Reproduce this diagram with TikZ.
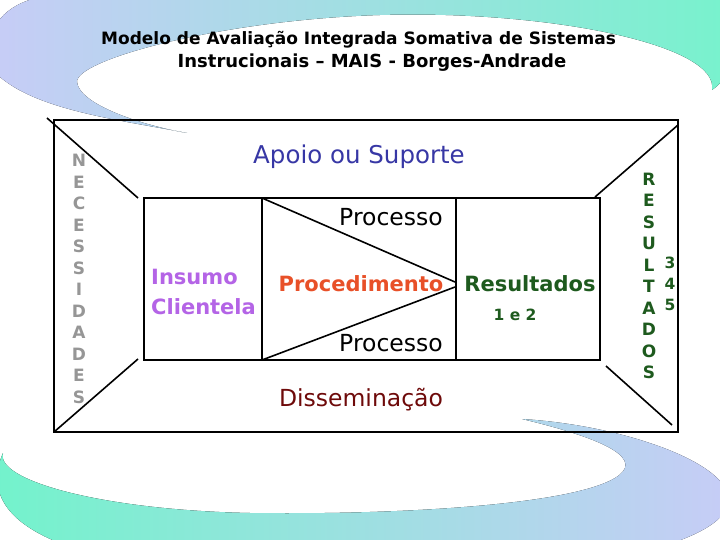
\documentclass[tikz,border=0pt]{standalone}
\usepackage{fontspec}
\setmainfont{DejaVu Sans}
\definecolor{lav}{RGB}{200,204,247}
\definecolor{mint}{RGB}{118,243,204}
\definecolor{mintB}{RGB}{112,244,202}
\definecolor{apoioc}{RGB}{55,55,165}
\definecolor{procedc}{RGB}{232,80,40}
\definecolor{dgreen}{RGB}{30,90,30}
\definecolor{purp}{RGB}{180,100,230}
\definecolor{dissc}{RGB}{110,10,10}
\definecolor{grayl}{RGB}{150,150,150}
\begin{document}
\begin{tikzpicture}[x=1pt,y=-1pt,
  outerbox/.style={line width=2.5pt},
  innerbox/.style={line width=2.2pt},
  diag/.style={line width=1.6pt},
  lbl/.style={inner sep=0pt, font=\fontsize{23.5}{28}\selectfont},
  blbl/.style={inner sep=0pt, font=\bfseries\fontsize{21}{30}\selectfont},
  vert/.style={inner sep=0pt, align=center, font=\bfseries\fontsize{17}{21.5}\selectfont},
  numlbl/.style={inner sep=0pt, align=center, font=\bfseries\fontsize{15.5}{21}\selectfont, text=dgreen},
]
\useasboundingbox (0,0) rectangle (720,540);
\begin{scope}
\clip (0,0) rectangle (720,540);
% top swoosh
\fill[left color=lav, right color=mint]
  (187,133) .. controls (110,118) and (15,108) .. (-15,60)
  .. controls (-12,25) and (5,5) .. (40,-3)
  .. controls (200,-60) and (600,-60) .. (735,-10)
  .. controls (745,30) and (735,75) .. (712,90)
  .. controls (720,45) and (550,10) .. (380,15)
  .. controls (220,20) and (75,60) .. (77,82)
  .. controls (79,104) and (140,125) .. (187,133) -- cycle;
% bottom swoosh
\fill[left color=mintB, right color=lav]
  (3,453) .. controls (-30,530) and (80,580) .. (370,578)
  .. controls (560,580) and (740,545) .. (728,495)
  .. controls (720,460) and (620,425) .. (522,419)
  .. controls (610,440) and (645,460) .. (615,478)
  .. controls (570,505) and (400,515) .. (250,513)
  .. controls (100,510) and (-5,480) .. (3,453) -- cycle;
\end{scope}

% title
\node[inner sep=0pt, anchor=west, font=\bfseries\fontsize{17}{20}\selectfont] (t1) at (101,40) {Modelo de Avaliação Integrada Somativa de Sistemas};
\node[inner sep=0pt, font=\bfseries\fontsize{18}{20}\selectfont] (t2) at (372,63) {Instrucionais – MAIS - Borges-Andrade};

% frame coordinates
\coordinate (o1) at (54,120);
\coordinate (o2) at (678,432);
\coordinate (i1) at (144,198);
\coordinate (i2) at (600,360);
\coordinate (pa) at (262,198);
\coordinate (pb) at (262,360);
\coordinate (qa) at (456,198);
\coordinate (qb) at (456,360);
\coordinate (tipa) at (455,282);
\coordinate (tipb) at (455,287);
\coordinate (d1s) at (47,118);  \coordinate (d1e) at (138,198);
\coordinate (d2s) at (54,432);  \coordinate (d2e) at (138,359);
\coordinate (d3s) at (678,125); \coordinate (d3e) at (595,197);
\coordinate (d4s) at (672,425); \coordinate (d4e) at (606,366);

\draw[outerbox] (o1) rectangle (o2);
\draw[innerbox] (i1) rectangle (i2);
\draw[innerbox] (pa) -- (pb);
\draw[innerbox] (qa) -- (qb);
\draw[diag] (pa) -- (tipa);
\draw[diag] (pb) -- (tipb);
\draw[diag] (d1s) -- (d1e);
\draw[diag] (d2s) -- (d2e);
\draw[diag] (d3s) -- (d3e);
\draw[diag] (d4s) -- (d4e);

% labels
\node[lbl, text=apoioc, font=\fontsize{24.5}{28}\selectfont] (apoio) at (359,157) {Apoio ou Suporte};
\node[lbl] (proc1) at (391,217) {Processo};
\node[lbl] (proc2) at (391,343) {Processo};
\node[lbl, text=dissc] (diss) at (361,400) {Disseminação};
\node[blbl, text=procedc] (proced) at (361,284) {Procedimento};
\node[blbl, text=dgreen] (result) at (530,284) {Resultados};
\node[numlbl] (ume) at (515,315) {1 e 2};
\node[blbl, text=purp, align=left, anchor=west] (insumo) at (151,292) {Insumo\\Clientela};
\node[vert, text=grayl] (nec) at (79,279) {N\\E\\C\\E\\S\\S\\I\\D\\A\\D\\E\\S};
\node[vert, text=dgreen] (res) at (649,276) {R\\E\\S\\U\\L\\T\\A\\D\\O\\S};
\node[numlbl] (nums) at (670,284) {3\\4\\5};
\end{tikzpicture}
\end{document}
